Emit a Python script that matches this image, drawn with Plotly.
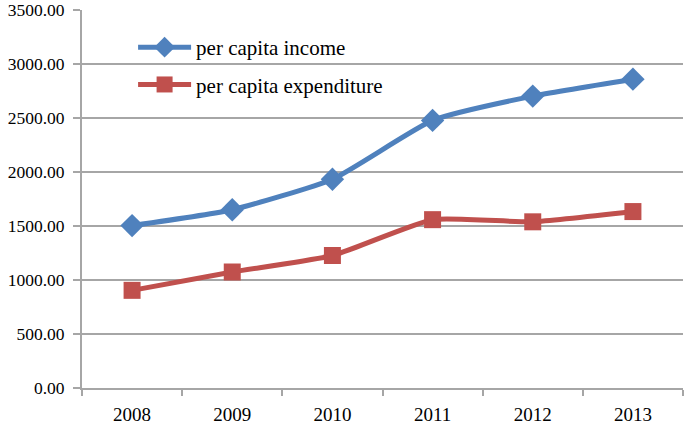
import plotly.graph_objects as go

years = ["2008", "2009", "2010", "2011", "2012", "2013"]
income = [1505, 1652, 1935, 2480, 2705, 2862]
expenditure = [905, 1075, 1228, 1560, 1540, 1635]
y_ticks = [0, 500, 1000, 1500, 2000, 2500, 3000, 3500]
y_labels = [f"{v:.2f}" for v in y_ticks]

fig = go.Figure()
fig.add_trace(go.Scatter(
    x=years, y=income, name="per capita income", mode="lines+markers",
    line=dict(color="#4F81BD", width=5, shape="spline", smoothing=0.5),
    marker=dict(symbol="diamond", size=18, color="#4F81BD"),
    legendgroup="a"))
fig.add_trace(go.Scatter(
    x=years, y=expenditure, name="per capita expenditure", mode="lines+markers",
    line=dict(color="#C0504D", width=5, shape="spline", smoothing=0.5),
    marker=dict(symbol="square", size=17, color="#C0504D"),
    legendgroup="b"))

font = "Liberation Serif"
fig.update_layout(
    width=685, height=425,
    margin=dict(l=82, r=2, t=10, b=37, autoexpand=False),
    paper_bgcolor="white", plot_bgcolor="white",
    font=dict(family=font, size=17.5, color="#000000"),
    showlegend=True,
    legend=dict(x=0.085, y=0.955, xanchor="left", yanchor="top",
                bgcolor="rgba(0,0,0,0)", font=dict(size=21, family=font),
                tracegroupgap=7, itemwidth=53, traceorder="grouped"),
    xaxis=dict(type="category", showgrid=False, showline=True, linecolor="#A6A6A6",
               linewidth=2, ticks="outside", ticklen=6, tickcolor="#A6A6A6",
               tickwidth=2, tickson="boundaries", range=[-0.5, 5.5],
               ticklabelstandoff=8, automargin=False,
               tickfont=dict(size=19, family=font)),
    yaxis=dict(range=[0, 3503], tickvals=y_ticks, ticktext=y_labels,
               showgrid=True, gridcolor="#A6A6A6", gridwidth=2,
               showline=True, linecolor="#A6A6A6", linewidth=2,
               ticks="outside", ticklen=7, tickcolor="#A6A6A6", tickwidth=2,
               ticklabelstandoff=5, ticklabeloverflow="allow", automargin=False,
               zeroline=False, tickfont=dict(size=17.5, family=font)),
)
fig.write_html(
    "out.html",
    config={"displayModeBar": False},
    post_script="document.body.style.margin='0';document.documentElement.style.overflow='hidden';document.body.style.overflow='hidden';",
)
